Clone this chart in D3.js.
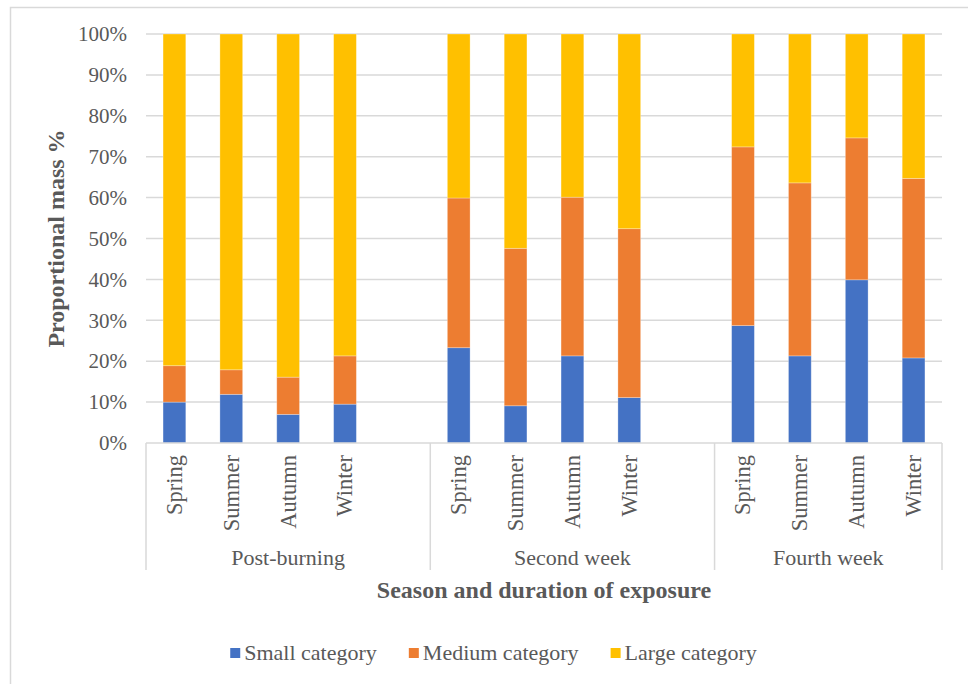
<!DOCTYPE html>
<html>
<head>
<meta charset="utf-8">
<script src="https://cdn.jsdelivr.net/npm/d3@7/dist/d3.min.js"></script>
<style>
  html, body { margin: 0; padding: 0; background: #fff; }
  svg text { font-family: "Liberation Serif", "Times New Roman", serif; fill: #595959; }
</style>
</head>
<body>
<svg id="chart" width="968" height="684"></svg>
<script>
const groups = ["Post-burning", "Second week", "Fourth week"];
const seasons = ["Spring", "Summer", "Autumn", "Winter"];
const seriesNames = ["Small category", "Medium category", "Large category"];
const small  = [10.0, 11.9, 7.0, 9.5,  23.3, 9.1, 21.3, 11.1,  28.7, 21.3, 39.9, 20.8];
const medium = [8.9, 6.0, 9.1, 11.8,   36.6, 38.5, 38.8, 41.3,  43.7, 42.3, 34.7, 43.9];
const large  = [81.1, 82.1, 83.9, 78.7, 40.1, 52.4, 39.9, 47.6, 27.6, 36.4, 25.4, 35.3];
const yTicks = [0, 10, 20, 30, 40, 50, 60, 70, 80, 90, 100];
const colors = ["#4472C4", "#ED7D31", "#FFC000"];

(function () {
const svg = d3.select("#chart");

// outer chart border
svg.append("rect").attr("x", 10.5).attr("y", 7.5).attr("width", 1000).attr("height", 720)
  .attr("fill", "none").attr("stroke", "#d9d9d9").attr("stroke-width", 1.5);

const pLeft = 146, pRight = 942, pTop = 34, pBottom = 443;

// slots: 4 seasons per group, one empty slot between groups
const slots = [];
const rows = [];
groups.forEach((g, gi) => {
  seasons.forEach((s, si) => {
    const key = g + "|" + s;
    slots.push(key);
    const i = gi * 4 + si;
    rows.push({ key, group: g, season: s, small: small[i], medium: medium[i], large: large[i] });
  });
  if (gi < groups.length - 1) slots.push("gap" + gi);
});

const x = d3.scaleBand().domain(slots).range([pLeft, pRight]).paddingInner(0.6).paddingOuter(0.3);
const y = d3.scaleLinear().domain([0, 100]).range([pBottom, pTop]);

// gridlines
svg.append("g").selectAll("line").data(yTicks.filter(d => d > 0)).join("line")
  .attr("x1", pLeft).attr("x2", pRight)
  .attr("y1", d => y(d)).attr("y2", d => y(d))
  .attr("stroke", "#d9d9d9").attr("stroke-width", 1.5);

// y axis labels
const yAxis = d3.axisLeft(y).tickValues(yTicks).tickFormat(d => d + "%").tickSize(0).tickPadding(19);
const ya = svg.append("g").attr("transform", `translate(${pLeft},0)`).call(yAxis);
ya.select(".domain").remove();
ya.selectAll("text").style("font-size", "21px").attr("fill", "#595959")
  .style("font-family", '"Liberation Serif", serif');

// stacked bars
const stack = d3.stack().keys(["small", "medium", "large"]);
const stacked = stack(rows);
svg.append("g").selectAll("g").data(stacked).join("g")
  .attr("fill", (d, i) => colors[i])
  .selectAll("rect").data(d => d).join("rect")
  .attr("x", d => x(d.data.key))
  .attr("width", x.bandwidth())
  .attr("y", d => y(d[1]))
  .attr("height", d => y(d[0]) - y(d[1]))
  .attr("stroke", "rgba(255,255,255,0.35)").attr("stroke-width", 0.8);

// x axis line
svg.append("line").attr("x1", pLeft).attr("x2", pRight).attr("y1", pBottom).attr("y2", pBottom)
  .attr("stroke", "#d9d9d9").attr("stroke-width", 1.5);

// group separators
const step = x.step();
const sepX = [pLeft];
groups.forEach((g, gi) => {
  if (gi < groups.length - 1) sepX.push(x("gap" + gi) - x.paddingInner() * step / 2 + step);
});
sepX.push(pRight);
svg.append("g").selectAll("line").data(sepX).join("line")
  .attr("x1", d => d).attr("x2", d => d).attr("y1", pBottom).attr("y2", 570)
  .attr("stroke", "#d9d9d9").attr("stroke-width", 1.5);

// season labels (rotated)
svg.append("g").selectAll("text").data(rows).join("text")
  .attr("transform", d => `translate(${x(d.key) + x.bandwidth() / 2},455) rotate(-90)`)
  .attr("text-anchor", "end").attr("dy", "0.33em")
  .style("font-size", "22.5px")
  .text(d => d.season);

// group labels
svg.append("g").selectAll("text").data(groups).join("text")
  .attr("x", (d, i) => (sepX[i] + sepX[i + 1]) / 2)
  .attr("y", 565)
  .attr("text-anchor", "middle")
  .style("font-size", "22px")
  .text(d => d);

// axis titles
svg.append("text").attr("x", (pLeft + pRight) / 2).attr("y", 598)
  .attr("text-anchor", "middle").style("font-size", "24px").style("font-weight", "bold")
  .text("Season and duration of exposure");
svg.append("text").attr("transform", `translate(64,${(pTop + pBottom) / 2}) rotate(-90)`)
  .attr("text-anchor", "middle").style("font-size", "24px").style("font-weight", "bold")
  .text("Proportional mass %");

// legend
const lg = svg.append("g");
const items = lg.selectAll("g").data(seriesNames).join("g");
items.append("rect").attr("width", 10).attr("height", 10).attr("y", 648)
  .attr("fill", (d, i) => colors[i]);
items.append("text").attr("x", 14).attr("y", 660).style("font-size", "22px").text(d => d);
const widths = [];
items.each(function () { widths.push(d3.select(this).select("text").node().getComputedTextLength() + 14); });
const gap = 32;
const total = d3.sum(widths) + gap * (widths.length - 1);
let cx = 493.5 - total / 2;
items.attr("transform", (d, i) => {
  const t = `translate(${cx},0)`;
  cx += widths[i] + gap;
  return t;
});
})();
</script>
</body>
</html>
